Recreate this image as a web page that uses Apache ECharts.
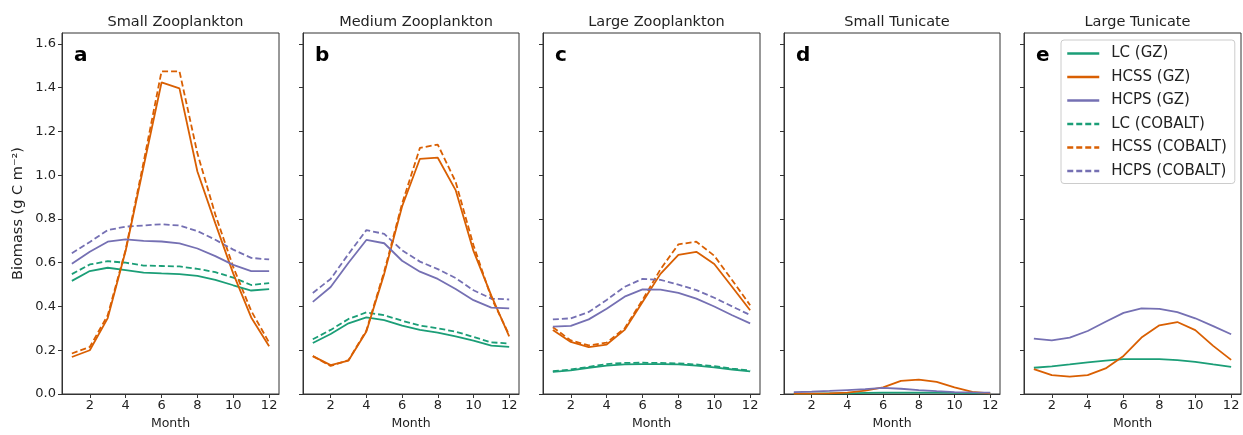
<!DOCTYPE html>
<html>
<head>
<meta charset="utf-8">
<script src="https://cdn.jsdelivr.net/npm/echarts@6/dist/echarts.min.js"></script>
<style>
  html, body { margin: 0; padding: 0; background: #fff; }
  #chart-container { width: 1243px; height: 435px; }
</style>
</head>
<body>
<div id="chart-container"></div>
<script>
var months = [1, 2, 3, 4, 5, 6, 7, 8, 9, 10, 11, 12];
var panelTitles = ["Small Zooplankton", "Medium Zooplankton", "Large Zooplankton", "Small Tunicate", "Large Tunicate"];
var panelLetters = ["a", "b", "c", "d", "e"];
var yTicks = [0, 0.2, 0.4, 0.6, 0.8, 1.0, 1.2, 1.4, 1.6];
var xTicks = [2, 4, 6, 8, 10, 12];

// a: small zooplankton
var smLC_GZ = [0.517, 0.562, 0.577, 0.566, 0.555, 0.551, 0.548, 0.540, 0.522, 0.497, 0.473, 0.479];
var smHCSS_GZ = [0.169, 0.200, 0.347, 0.655, 1.040, 1.424, 1.397, 1.017, 0.780, 0.550, 0.350, 0.218];
var smHCPS_GZ = [0.595, 0.650, 0.696, 0.707, 0.700, 0.697, 0.688, 0.665, 0.630, 0.590, 0.562, 0.562];
var smLC_CO = [0.548, 0.592, 0.607, 0.600, 0.587, 0.585, 0.583, 0.572, 0.557, 0.532, 0.498, 0.507];
var smHCSS_CO = [0.185, 0.215, 0.360, 0.660, 1.060, 1.475, 1.475, 1.100, 0.820, 0.580, 0.380, 0.235];
var smHCPS_CO = [0.643, 0.695, 0.749, 0.765, 0.770, 0.776, 0.770, 0.745, 0.705, 0.660, 0.622, 0.615];

// b: medium zooplankton
var mdLC_GZ = [0.233, 0.274, 0.323, 0.350, 0.338, 0.313, 0.293, 0.281, 0.263, 0.244, 0.221, 0.215];
var mdHCSS_GZ = [0.173, 0.132, 0.153, 0.286, 0.549, 0.857, 1.075, 1.080, 0.932, 0.654, 0.450, 0.263];
var mdHCPS_GZ = [0.421, 0.489, 0.600, 0.704, 0.689, 0.609, 0.559, 0.526, 0.480, 0.429, 0.395, 0.391];
var mdLC_CO = [0.250, 0.293, 0.343, 0.373, 0.360, 0.335, 0.313, 0.300, 0.285, 0.261, 0.236, 0.231];
var mdHCSS_CO = [0.173, 0.128, 0.155, 0.290, 0.560, 0.870, 1.125, 1.140, 0.970, 0.680, 0.440, 0.270];
var mdHCPS_CO = [0.462, 0.526, 0.640, 0.749, 0.732, 0.657, 0.605, 0.571, 0.530, 0.474, 0.436, 0.432];

// c: large zooplankton
var lgLC_GZ = [0.101, 0.108, 0.120, 0.130, 0.135, 0.137, 0.137, 0.135, 0.130, 0.122, 0.112, 0.103];
var lgHCSS_GZ = [0.293, 0.238, 0.214, 0.226, 0.293, 0.421, 0.549, 0.636, 0.650, 0.594, 0.489, 0.383];
var lgHCPS_GZ = [0.308, 0.311, 0.341, 0.390, 0.445, 0.478, 0.477, 0.462, 0.436, 0.400, 0.360, 0.323];
var lgLC_CO = [0.104, 0.112, 0.124, 0.137, 0.142, 0.143, 0.142, 0.140, 0.135, 0.127, 0.116, 0.107];
var lgHCSS_CO = [0.305, 0.245, 0.222, 0.235, 0.300, 0.430, 0.570, 0.684, 0.696, 0.632, 0.520, 0.406];
var lgHCPS_CO = [0.341, 0.346, 0.375, 0.430, 0.490, 0.526, 0.522, 0.500, 0.475, 0.440, 0.400, 0.361];

// d: small tunicate (GZ only)
var stLC_GZ = [0.002, 0.002, 0.003, 0.003, 0.005, 0.006, 0.006, 0.006, 0.006, 0.005, 0.004, 0.003];
var stHCSS_GZ = [0.002, 0.002, 0.003, 0.006, 0.015, 0.030, 0.060, 0.066, 0.055, 0.030, 0.010, 0.003];
var stHCPS_GZ = [0.009, 0.011, 0.014, 0.018, 0.022, 0.028, 0.024, 0.018, 0.013, 0.009, 0.007, 0.006];

// e: large tunicate (GZ only)
var ltLC_GZ = [0.120, 0.126, 0.135, 0.145, 0.153, 0.159, 0.159, 0.159, 0.155, 0.147, 0.135, 0.124];
var ltHCSS_GZ = [0.114, 0.086, 0.079, 0.086, 0.117, 0.174, 0.258, 0.314, 0.329, 0.292, 0.220, 0.156];
var ltHCPS_GZ = [0.253, 0.245, 0.258, 0.288, 0.330, 0.371, 0.391, 0.389, 0.374, 0.346, 0.310, 0.273];

var green = "#1b9e77", orange = "#d95f02", purple = "#7570b3";
var font = "DejaVu Sans";
var textColor = "#222";

var panels = [
  [[smLC_GZ, smHCSS_GZ, smHCPS_GZ], [smLC_CO, smHCSS_CO, smHCPS_CO]],
  [[mdLC_GZ, mdHCSS_GZ, mdHCPS_GZ], [mdLC_CO, mdHCSS_CO, mdHCPS_CO]],
  [[lgLC_GZ, lgHCSS_GZ, lgHCPS_GZ], [lgLC_CO, lgHCSS_CO, lgHCPS_CO]],
  [[stLC_GZ, stHCSS_GZ, stHCPS_GZ], null],
  [[ltLC_GZ, ltHCSS_GZ, ltHCPS_GZ], null]
];
var lefts = [62, 303, 543, 784, 1024];
var widths = [217, 216, 217, 216, 217];
var colors = [green, orange, purple];
var gzNames = ["LC (GZ)", "HCSS (GZ)", "HCPS (GZ)"];
var coNames = ["LC (COBALT)", "HCSS (COBALT)", "HCPS (COBALT)"];

var grids = [], xAxes = [], yAxes = [], series = [], titles = [];

panels.forEach(function (p, i) {
  grids.push({
    left: lefts[i], top: 33, width: widths[i], height: 365,
    show: true, borderColor: "#333", borderWidth: 1, backgroundColor: "transparent"
  });
  xAxes.push({
    gridIndex: i, type: "value", min: 0.45, max: 12.55,
    name: "Month", nameLocation: "middle", nameGap: 23,
    nameTextStyle: { fontFamily: font, fontSize: 12.5, color: textColor },
    axisLine: { show: true, lineStyle: { color: "#333" } },
    axisTick: { show: true, length: 4, inside: false, customValues: xTicks, lineStyle: { color: "#333" } },
    axisLabel: { customValues: xTicks, fontFamily: font, fontSize: 13, color: textColor, margin: 5 },
    splitLine: { show: false }
  });
  yAxes.push({
    gridIndex: i, type: "value", min: 0, max: 1.65,
    name: i === 0 ? "Biomass (g C m\u207B\u00B2)" : "",
    nameLocation: "middle", nameGap: 36, nameRotate: 90,
    nameTextStyle: { fontFamily: font, fontSize: 14.5, color: textColor },
    axisLine: { show: true, lineStyle: { color: "#333" } },
    axisTick: { show: true, length: 4, inside: false, customValues: yTicks, lineStyle: { color: "#333" } },
    axisLabel: {
      show: i === 0, customValues: yTicks, fontFamily: font, fontSize: 13, color: textColor, margin: 6,
      formatter: function (v) { return v.toFixed(1); }
    },
    splitLine: { show: false }
  });
  titles.push({
    text: panelTitles[i], left: lefts[i] + widths[i] / 2, top: 10, textAlign: "center",
    textStyle: { fontFamily: font, fontSize: 14.5, fontWeight: "normal", color: textColor }
  });
  titles.push({
    text: panelLetters[i], left: lefts[i] + 7, top: 41,
    textStyle: { fontFamily: font, fontSize: 20, fontWeight: "bold", color: "#000" }
  });
  p[0].forEach(function (vals, k) {
    series.push({
      name: gzNames[k], type: "line", xAxisIndex: i, yAxisIndex: i,
      data: months.map(function (m, j) { return [m, vals[j]]; }),
      symbol: "none", color: colors[k],
      lineStyle: { color: colors[k], width: 1.8, type: "solid" },
      z: 3
    });
  });
  if (p[1]) {
    p[1].forEach(function (vals, k) {
      series.push({
        name: coNames[k], type: "line", xAxisIndex: i, yAxisIndex: i,
        data: months.map(function (m, j) { return [m, vals[j]]; }),
        symbol: "none", color: colors[k],
        lineStyle: { color: colors[k], width: 1.8, type: [6, 3] },
        z: 2
      });
    });
  }
});

var myChart = echarts.init(document.getElementById("chart-container"), null, { renderer: "canvas" });
var option = {
  animation: false,
  backgroundColor: "#fff",
  title: titles,
  legend: {
    data: gzNames.concat(coNames),
    orient: "vertical", left: 1061, top: 40,
    itemWidth: 32, itemHeight: 14, itemGap: 8.5,
    padding: [6, 8, 5, 5],
    borderColor: "#ccc", borderWidth: 1, borderRadius: 3,
    backgroundColor: "rgba(255,255,255,0.8)",
    itemStyle: { opacity: 0, borderWidth: 0 },
    lineStyle: { width: 2.5 },
    textStyle: { fontFamily: font, fontSize: 15, color: textColor, padding: [0, 0, 0, 7] }
  },
  grid: grids,
  xAxis: xAxes,
  yAxis: yAxes,
  series: series
};
myChart.setOption(option);
</script>
</body>
</html>
